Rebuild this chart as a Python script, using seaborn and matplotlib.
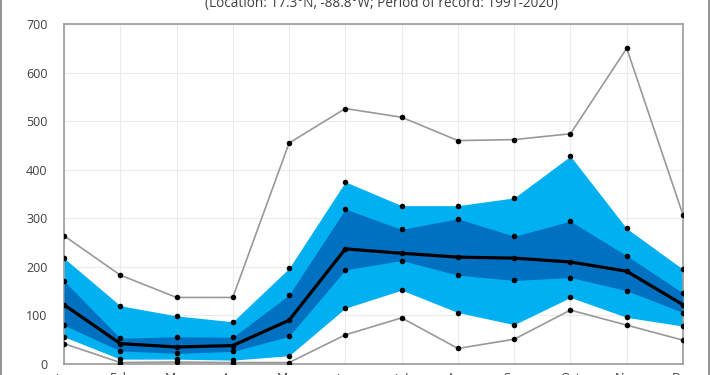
import numpy as np
import pandas as pd
import matplotlib
matplotlib.use("Agg")
import matplotlib.pyplot as plt
from matplotlib.lines import Line2D
import seaborn as sns

# Datos (precipitacion mensual, mm)
meses = ["Jan", "Feb", "Mar", "Apr", "May", "Jun", "Jul", "Aug", "Sep", "Oct", "Nov", "Dec"]
maximo = [264, 183, 137, 137, 455, 526, 508, 460, 462, 474, 650, 307]
p90 = [218, 120, 99, 87, 197, 375, 326, 326, 342, 428, 279, 195]
p75 = [171, 53, 56, 55, 142, 319, 277, 299, 263, 294, 223, 146]
mediana = [122, 42, 35, 38, 90, 237, 228, 220, 218, 210, 191, 122]
p25 = [80, 27, 22, 26, 57, 194, 213, 183, 172, 178, 151, 106]
p10 = [56, 10, 10, 8, 17, 115, 152, 106, 81, 137, 96, 78]
minimo = [42, 3, 4, 3, 3, 60, 95, 32, 51, 111, 80, 49]

titulo = "(Location: 17.3°N, -88.8°W; Period of record: 1991-2020)"

sns.set_style("white")
plt.rcParams['font.family'] = ['Open Sans', 'DejaVu Sans']

df = pd.DataFrame({"mes": meses, "x": np.arange(len(meses)),
                   "max": maximo, "p90": p90, "p75": p75, "med": mediana,
                   "p25": p25, "p10": p10, "min": minimo})

fig = plt.figure(figsize=(7.1, 3.75), dpi=100)
ax = fig.add_axes([64 / 710, 11 / 375, (683 - 64) / 710, (364 - 24) / 375])

# Bandas de percentiles
ax.fill_between(df["x"], df["p10"], df["p90"], color="#00B0F0", linewidth=0, zorder=2)
ax.fill_between(df["x"], df["p25"], df["p75"], color="#0070C0", linewidth=0, zorder=3)

# Lineas de maximo, minimo y mediana
sns.lineplot(data=df, x="x", y="max", color="#999999", linewidth=1.2, ax=ax, zorder=4)
sns.lineplot(data=df, x="x", y="min", color="#999999", linewidth=1.2, ax=ax, zorder=4)
sns.lineplot(data=df, x="x", y="med", color="black", linewidth=2.3, ax=ax, zorder=5)

# Puntos en cada serie
largo = df.melt(id_vars="x", value_vars=["max", "p90", "p75", "med", "p25", "p10", "min"])
sns.scatterplot(data=largo, x="x", y="value", color="black", s=16, linewidth=0, ax=ax, zorder=6)

ax.set_xlim(0, 11)
ax.set_ylim(0, 700)
ax.set_yticks(range(0, 701, 100))
ax.set_xticks(df["x"])
ax.set_xticklabels(meses)
ax.set_xlabel("")
ax.set_ylabel("")
ax.grid(True, color="#ebebeb", linewidth=0.8, zorder=0)
ax.set_axisbelow(True)
for lado in ["left", "bottom", "top", "right"]:
    ax.spines[lado].set_color("#9a9a9a")
    ax.spines[lado].set_linewidth(1.2)
ax.tick_params(axis="y", length=0, pad=12, labelsize=9, labelcolor="#404040")
ax.tick_params(axis="x", length=4, width=1, color="#9a9a9a", direction="out", pad=1.8,
               labelsize=9, labelcolor="#404040")

# Titulo (recortado arriba)
fig.text(382 / 710, 1 - 7 / 375, titulo, ha="center", va="baseline", fontsize=9.8, color="#404040")

# Borde exterior del grafico
fig.add_artist(Line2D([1.5 / 710, 1.5 / 710], [0, 1], color="#7f7f7f", linewidth=1.2))
fig.add_artist(Line2D([708.5 / 710, 708.5 / 710], [0, 1], color="#7f7f7f", linewidth=1.2))

fig.savefig("out.png", dpi=100)
